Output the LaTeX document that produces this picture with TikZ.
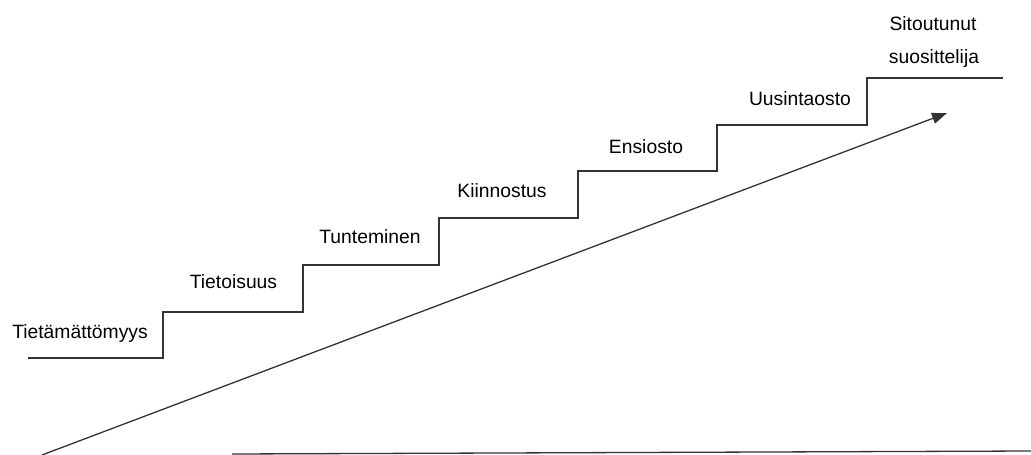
\documentclass[tikz,border=0pt]{standalone}
\usepackage{fontspec}
\setmainfont{Liberation Sans}
\usetikzlibrary{arrows.meta}
\begin{document}
\begin{tikzpicture}[x=1pt,y=-1pt,
  lbl/.style={anchor=base,inner sep=0pt,font=\fontsize{19.3}{33}\selectfont},
  ln/.style={line width=1.3pt,black!80}]
\useasboundingbox (0,0) rectangle (1031,455);
% staircase corners
\coordinate (s0) at (28,358);
\coordinate (s1) at (163,358);
\coordinate (s2) at (163,312);
\coordinate (s3) at (303,312);
\coordinate (s4) at (303,265);
\coordinate (s5) at (439,265);
\coordinate (s6) at (439,218);
\coordinate (s7) at (578,218);
\coordinate (s8) at (578,171);
\coordinate (s9) at (717,171);
\coordinate (s10) at (717,125);
\coordinate (s11) at (867,125);
\coordinate (s12) at (867,78);
\coordinate (s13) at (1003,78);
\draw[ln] (s0) -- (s1) -- (s2) -- (s3) -- (s4) -- (s5) -- (s6) -- (s7)
  -- (s8) -- (s9) -- (s10) -- (s11) -- (s12) -- (s13);
% labels
\node[lbl] (l1) at (80,338) {Tietämättömyys};
\node[lbl] (l2) at (233.5,288) {Tietoisuus};
\node[lbl] (l3) at (370,243) {Tunteminen};
\node[lbl] (l4) at (502,197) {Kiinnostus};
\node[lbl] (l5) at (646,153) {Ensiosto};
\node[lbl] (l6) at (800,105) {Uusintaosto};
\node[lbl] (l7a) at (933,30) {Sitoutunut};
\node[lbl] (l7b) at (934,63) {suosittelija};
% arrow
\coordinate (a0) at (42,455);
\coordinate (a1) at (947,113);
\draw[ln,-{Triangle[length=15pt,width=11pt]}] (a0) -- (a1);
% bottom line
\coordinate (b0) at (232,454);
\coordinate (b1) at (1031,451);
\draw[ln] (b0) -- (b1);
\end{tikzpicture}
\end{document}
